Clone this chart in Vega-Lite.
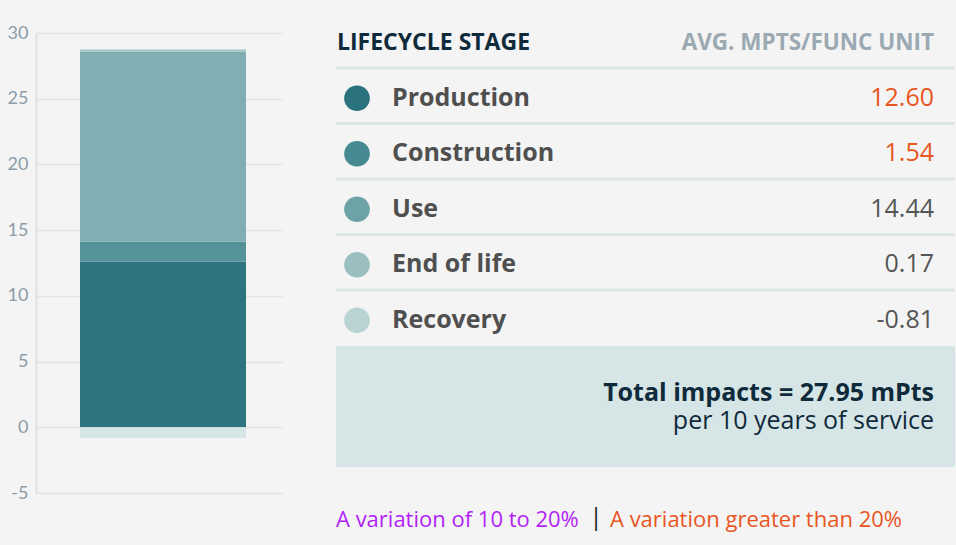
{
  "$schema": "https://vega.github.io/schema/vega-lite/v6.json",
  "background": "#f4f4f4",
  "padding": {"left": 7, "top": 24, "right": 0, "bottom": 0},
  "bounds": "flush",
  "spacing": 54,
  "config": {"view": {"stroke": null}, "font": "Open Sans", "text": {"font": "Open Sans"}},
  "datasets": {
    "stages": [
      {"stage": "Production", "value": 12.60, "order": 1, "flag": ">20"},
      {"stage": "Construction", "value": 1.54, "order": 2, "flag": ">20"},
      {"stage": "Use", "value": 14.44, "order": 3, "flag": "none"},
      {"stage": "End of life", "value": 0.17, "order": 4, "flag": "none"},
      {"stage": "Recovery", "value": -0.81, "order": 5, "flag": "none"}
    ],
    "header": [{"left": "LIFECYCLE STAGE", "right": "AVG. MPTS/FUNC UNIT"}],
    "total": [{"headline": "Total impacts = 27.95 mPts", "detail": "per 10 years of service"}],
    "notes": [
      {"text": "A variation of 10 to 20%", "flag": "10-20"},
      {"text": "A variation greater than 20%", "flag": ">20"}
    ]
  },
  "resolve": {"scale": {"color": "independent"}},
  "hconcat": [
    {
      "width": 246,
      "height": 460,
      "data": {"name": "stages"},
      "mark": {"type": "bar", "width": 166, "xOffset": 4},
      "encoding": {
        "y": {
          "field": "value",
          "type": "quantitative",
          "stack": "zero",
          "scale": {"domain": [-5, 30], "nice": false, "zero": false},
          "axis": {
            "title": null,
            "values": [-5, 0, 5, 10, 15, 20, 25, 30],
            "ticks": false,
            "labelPadding": 8,
            "labelFontSize": 18,
            "labelColor": "#8c9ca8",
            "labelFont": "Lato",
            "domainColor": "#e0e0e0",
            "domainWidth": 2,
            "gridColor": "#e3e3e3",
            "gridWidth": 1.5,
            "labelExpr": "replace(datum.label, '−', '-')"
          }
        },
        "color": {
          "field": "stage",
          "type": "nominal",
          "scale": {
            "domain": ["Production", "Construction", "Use", "End of life", "Recovery"],
            "range": ["#2b7480", "#549398", "#80aeb2", "#a3c4c6", "#d6e5e5"]
          },
          "legend": null
        },
        "order": {"field": "order", "type": "quantitative"}
      }
    },
    {
      "bounds": "flush",
      "spacing": 0,
      "resolve": {"scale": {"color": "independent"}},
      "vconcat": [
        {
          "width": 619,
          "height": 35,
          "data": {"name": "header"},
          "layer": [
            {
              "mark": {"type": "text", "align": "left", "dx": 1, "dy": -7.5, "fontSize": 23, "fontWeight": "bold", "color": "#0f2a3b"},
              "encoding": {"x": {"value": 0}, "text": {"field": "left"}}
            },
            {
              "mark": {"type": "text", "align": "right", "dx": -21, "dy": -7.5, "fontSize": 22.5, "fontWeight": "bold", "color": "#9aa9b2"},
              "encoding": {"x": {"value": "width"}, "text": {"field": "right"}}
            }
          ]
        },
        {
          "width": 619,
          "height": 277.5,
          "data": {"name": "stages"},
          "transform": [
            {"calculate": "replace(format(datum.value, '.2f'), '−', '-')", "as": "label"}
          ],
          "encoding": {
            "y": {
              "field": "stage",
              "type": "nominal",
              "sort": ["Production", "Construction", "Use", "End of life", "Recovery"],
              "scale": {"paddingInner": 0, "paddingOuter": 0},
              "axis": null
            }
          },
          "layer": [
            {
              "mark": {"type": "rule", "color": "#dde6e5", "strokeWidth": 3},
              "encoding": {
                "y": {
                  "field": "stage",
                  "type": "nominal",
                  "sort": ["Production", "Construction", "Use", "End of life", "Recovery"],
                  "bandPosition": 0,
                  "axis": null
                },
                "x": {"value": 0},
                "x2": {"value": "width"}
              }
            },
            {
              "mark": {"type": "circle", "size": 660, "opacity": 1, "xOffset": 21, "yOffset": 2.5},
              "encoding": {
                "x": {"value": 0},
                "color": {
                  "field": "stage",
                  "type": "nominal",
                  "scale": {
                    "domain": ["Production", "Construction", "Use", "End of life", "Recovery"],
                    "range": ["#2a737e", "#448a90", "#6da3a7", "#9bbfc0", "#bad4d6"]
                  },
                  "legend": null
                }
              }
            },
            {
              "mark": {"type": "text", "align": "left", "dx": 56, "dy": 2, "fontSize": 25, "fontWeight": "bold", "color": "#4f4f4f"},
              "encoding": {"x": {"value": 0}, "text": {"field": "stage"}}
            },
            {
              "mark": {"type": "text", "align": "right", "dx": -21, "dy": 2, "fontSize": 25},
              "encoding": {
                "x": {"value": "width"},
                "text": {"field": "label"},
                "color": {
                  "field": "flag",
                  "type": "nominal",
                  "scale": {"domain": ["none", "10-20", ">20"], "range": ["#555555", "#b21ff7", "#e8561f"]},
                  "legend": null
                }
              }
            }
          ],
          "resolve": {"scale": {"color": "independent"}}
        },
        {
          "width": 619,
          "height": 121,
          "data": {"name": "total"},
          "view": {"fill": "#d6e5e5", "stroke": null},
          "layer": [
            {
              "mark": {"type": "text", "align": "right", "dx": -21, "dy": -14, "fontSize": 25, "fontWeight": "bold", "color": "#0f2a3b"},
              "encoding": {"x": {"value": "width"}, "text": {"field": "headline"}}
            },
            {
              "mark": {"type": "text", "align": "right", "dx": -21, "dy": 14.5, "fontSize": 25, "color": "#0f2a3b"},
              "encoding": {"x": {"value": "width"}, "text": {"field": "detail"}}
            }
          ]
        },
        {
          "width": 619,
          "height": 79,
          "data": {"name": "notes"},
          "layer": [
            {
              "transform": [{"filter": "datum.flag === '10-20'"}],
              "mark": {"type": "text", "align": "left", "dy": 13.5, "fontSize": 22},
              "encoding": {
                "x": {"value": 0},
                "text": {"field": "text"},
                "color": {
                  "field": "flag",
                  "type": "nominal",
                  "scale": {"domain": ["none", "10-20", ">20"], "range": ["#555555", "#b21ff7", "#e8561f"]},
                  "legend": null
                }
              }
            },
            {
              "transform": [{"filter": "datum.flag === '10-20'"}],
              "mark": {"type": "text", "align": "center", "dx": 260, "dy": 11, "fontSize": 24, "color": "#222222"},
              "encoding": {"x": {"value": 0}, "text": {"value": "|"}}
            },
            {
              "transform": [{"filter": "datum.flag === '>20'"}],
              "mark": {"type": "text", "align": "left", "dx": 274, "dy": 13.5, "fontSize": 22},
              "encoding": {
                "x": {"value": 0},
                "text": {"field": "text"},
                "color": {
                  "field": "flag",
                  "type": "nominal",
                  "scale": {"domain": ["none", "10-20", ">20"], "range": ["#555555", "#b21ff7", "#e8561f"]},
                  "legend": null
                }
              }
            }
          ],
          "resolve": {"scale": {"color": "shared"}}
        }
      ]
    }
  ]
}
